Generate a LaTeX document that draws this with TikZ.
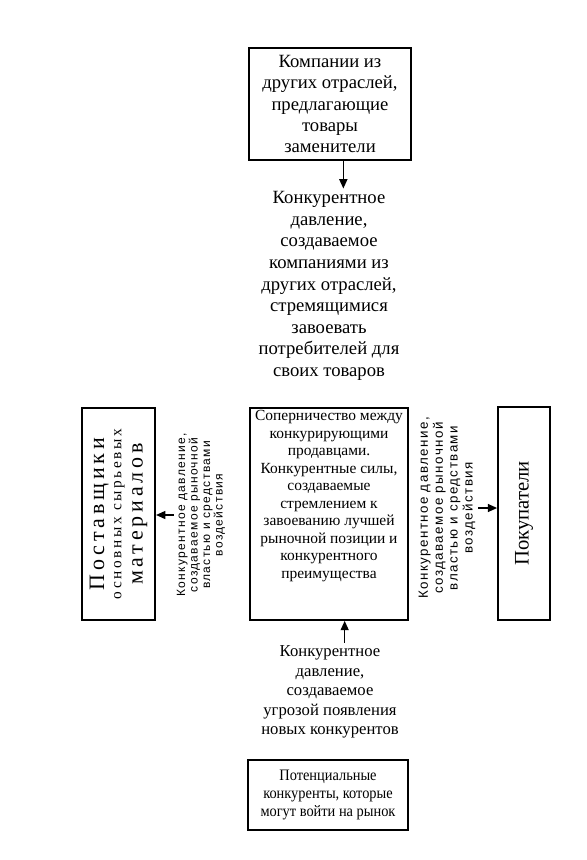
\documentclass[tikz,border=0pt]{standalone}
\usepackage{fontspec}
\setmainfont{Liberation Serif}
\newfontfamily\sidefont[LetterSpace=11]{Liberation Sans}
\newfontfamily\spacedserif[LetterSpace=17]{Liberation Serif}
\newfontfamily\narrowserif[FakeStretch=0.9]{Liberation Serif}
\usetikzlibrary{arrows.meta,positioning}

\begin{document}
\begin{tikzpicture}[x=0.75pt,y=-0.75pt,
    every node/.style={align=center,inner sep=2pt},
    box/.style={draw,line width=1.3pt,inner sep=0pt},
    bigtxt/.style={font=\fontsize{14}{16.2}\selectfont},
    midtxt/.style={font=\fontsize{12.5}{14.6}\selectfont},
    sidetxt/.style={rotate=90,font=\sidefont\fontsize{9}{9.4}\selectfont},
    push/.style={-{Triangle[length=7pt,width=6pt]},line width=1.1pt}
  ]
  \useasboundingbox (0,0) rectangle (586,860);
  % Forces boxes
  \node[box,bigtxt,minimum width=121.5pt,minimum height=84pt,
        font=\fontsize{14}{15.8}\selectfont] (subst) at (330,104)
    {Компании из\\ других отраслей,\\ предлагающие\\ товары\\ заменители};
  \node[box,minimum width=118.5pt,minimum height=159pt] (rival) at (329,514)
    {\begin{minipage}[c][157pt][t]{118pt}\centering
       \fontsize{11.6}{13.1}\selectfont\vspace{1pt}
       Соперничество между\\ конкурирующими\\ продавцами.\\
       Конкурентные силы,\\ создаваемые\\ стремлением к\\
       завоеванию лучшей\\ рыночной позиции и\\ конкурентного\\
       преимущества\end{minipage}};
  \node[box,minimum width=120pt,minimum height=52.5pt,
        font=\narrowserif\fontsize{12}{13.5}\selectfont] (entrant) at (328,795)
    {Потенциальные\\ конкуренты, которые\\ могут войти на рынок};
  \node[box,rotate=90,minimum width=159pt,minimum height=55pt,
        font=\spacedserif\fontsize{16.5}{16}\selectfont] (supply)
    at (118.5,514)
    {Поставщики\\[-3pt]
     \fontsize{11.5}{11}\selectfont основных сырьевых\\ материалов};
  \node[box,rotate=90,minimum width=160pt,minimum height=39pt,
        font=\fontsize{15.5}{17}\selectfont] (buyer) at (524,513.5)
    {Покупатели};
  % Pressure labels
  \node[bigtxt] (substp) at (329,286)
    {Конкурентное\\ давление,\\ создаваемое\\ компаниями из\\ других отраслей,\\
     стремящимися\\ завоевать\\ потребителей для\\ своих товаров};
  \node[midtxt] (newp) at (330,692)
    {Конкурентное\\ давление,\\ создаваемое\\ угрозой появления\\ новых конкурентов};
  \node[sidetxt] (supplyp) at (201,515)
    {Конкурентное давление,\\ создаваемое рыночной\\ властью и средствами\\ воздействия};
  \node[sidetxt,font=\sidefont\fontsize{10}{11.2}\selectfont] (buyerp) at (447,508)
    {Конкурентное давление,\\ создаваемое рыночной\\ властью и средствами\\ воздействия};
  % Arrows
  \draw[push] ([xshift=10pt]subst.south) -- ([xshift=10pt]subst.south |- substp.north);
  \draw[push] ([xshift=11pt]newp.north) -- ([xshift=11pt]newp.north |- rival.south);
  \draw[push] (supplyp.north) -- (supplyp.north -| supply.south);
  \draw[push] (buyerp.south) -- (buyerp.south -| buyer.north);
\end{tikzpicture}
\end{document}
